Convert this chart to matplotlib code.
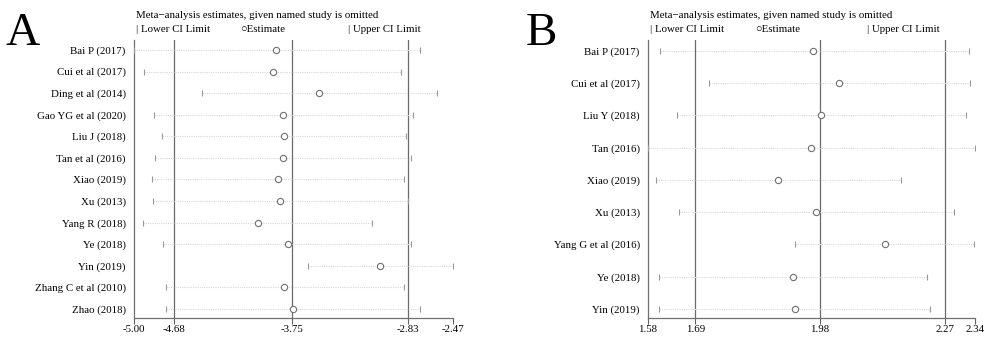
import numpy as np
import matplotlib
matplotlib.use('Agg')
from matplotlib import pyplot as plt

plt.rcParams['font.family'] = ['Liberation Serif', 'DejaVu Serif']

# panel A
studies_a = ['Bai P (2017)', 'Cui et al (2017)', 'Ding et al (2014)', 'Gao YG et al (2020)',
             'Liu J (2018)', 'Tan et al (2016)', 'Xiao (2019)', 'Xu (2013)', 'Yang R (2018)',
             'Ye (2018)', 'Yin (2019)', 'Zhang C et al (2010)', 'Zhao (2018)']
est_a = [-3.87, -3.90, -3.53, -3.82, -3.81, -3.82, -3.86, -3.84, -4.02, -3.78, -3.05, -3.81, -3.74]
lower_a = [-5.00, -4.92, -4.46, -4.84, -4.78, -4.83, -4.86, -4.85, -4.93, -4.77, -3.62, -4.75, -4.75]
upper_a = [-2.73, -2.88, -2.60, -2.79, -2.84, -2.80, -2.86, -2.83, -3.11, -2.80, -2.47, -2.86, -2.73]
ref_a = [-4.68, -3.75, -2.83]
ticks_a = [-5.00, -4.68, -3.75, -2.83, -2.47]

# panel B
studies_b = ['Bai P (2017)', 'Cui et al (2017)', 'Liu Y (2018)', 'Tan (2016)', 'Xiao (2019)',
             'Xu (2013)', 'Yang G et al (2016)', 'Ye (2018)', 'Yin (2019)']
est_b = [1.964, 2.024, 1.983, 1.958, 1.883, 1.970, 2.131, 1.917, 1.921]
lower_b = [1.607, 1.722, 1.647, 1.58, 1.599, 1.651, 1.922, 1.606, 1.606]
upper_b = [2.325, 2.328, 2.319, 2.34, 2.168, 2.291, 2.338, 2.228, 2.236]
ref_b = [1.69, 1.98, 2.27]
ticks_b = [1.58, 1.69, 1.98, 2.27, 2.34]

W, H = 985, 337
FS = 7.8
fig = plt.figure(figsize=(W / 100, H / 100), dpi=100)


def panel(x0, x1, pad_top, pad_bot, studies, est, lower, upper, ref, ticks, letter, leg_x):
    ax = fig.add_axes([x0 / W, 1 - 318 / H, (x1 - x0) / W, (318 - 40) / H])
    n = len(studies)
    y = np.arange(n)
    for v in ref:
        ax.axvline(v, color='#6a6a6a', lw=0.9, zorder=1)
    for i in range(n):
        ax.plot([lower[i], upper[i]], [i, i], color='#d8d8d8', lw=0.8, ls=(0, (1, 1)), zorder=2)
    ax.plot(lower, y, ls='none', marker='|', ms=4.5, mew=0.8, color='#999999', zorder=3)
    ax.plot(upper, y, ls='none', marker='|', ms=4.5, mew=0.8, color='#999999', zorder=3)
    ax.plot(est, y, ls='none', marker='o', ms=4.5, mfc='white', mec='#707070', mew=0.8, zorder=4)
    ax.set_xlim(ticks[0], ticks[-1])
    ax.set_ylim(n - 1 + pad_bot, -pad_top)
    ax.set_yticks(y)
    ax.set_yticklabels(studies, fontsize=FS)
    ax.set_xticks(ticks)
    ax.set_xticklabels(['%.2f' % t for t in ticks], fontsize=FS)
    ax.tick_params(axis='y', length=0, pad=6)
    ax.tick_params(axis='x', length=4, width=0.8, color='#606060', pad=1)
    for s in ['top', 'right']:
        ax.spines[s].set_visible(False)
    for s in ['left', 'bottom']:
        ax.spines[s].set_color('#707070')
        ax.spines[s].set_linewidth(0.9)
    ax.patch.set_alpha(0)
    fig.text((x0 + 2) / W, 1 - 15 / H, 'Meta\u2212analysis estimates, given named study is omitted',
             fontsize=FS, va='center', ha='left')
    fig.text((x0 + 2) / W, 1 - 29 / H, '| Lower CI Limit', fontsize=FS, va='center', ha='left')
    fig.text(leg_x[0] / W, 1 - 29 / H, '\u25cbEstimate', fontsize=FS, va='center', ha='left')
    fig.text(leg_x[1] / W, 1 - 29 / H, '| Upper CI Limit', fontsize=FS, va='center', ha='left')
    fig.text(letter[1] / W, 1 - 34 / H, letter[0], fontsize=34, va='center', ha='left')
    return ax


panel(134, 453, 0.46, 0.42, studies_a, est_a, lower_a, upper_a, ref_a, ticks_a, ('A', 6), (240, 348))
panel(648, 975, 0.34, 0.28, studies_b, est_b, lower_b, upper_b, ref_b, ticks_b, ('B', 526), (755, 867))

fig.savefig('out.png', dpi=100)
